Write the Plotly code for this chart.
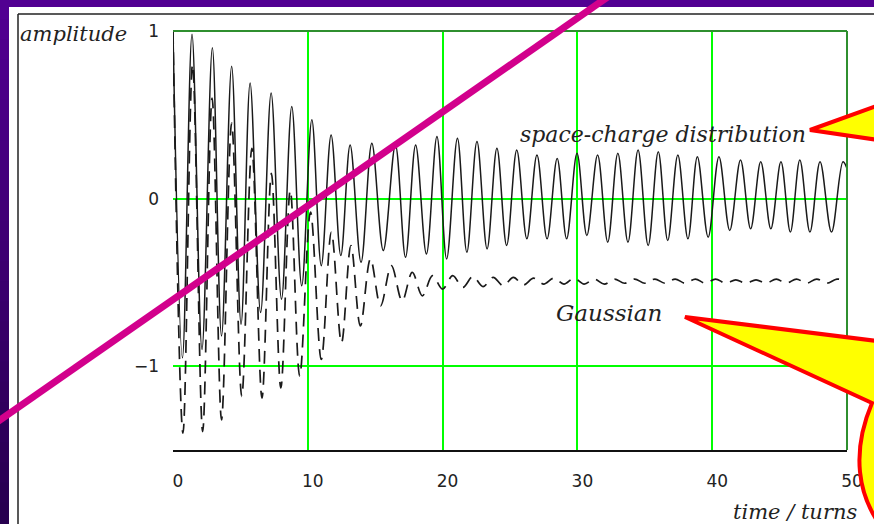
import plotly.graph_objects as go

# ---------------- data ----------------
x_ticks = [0, 10, 20, 30, 40, 50]
x_tick_text = ["0", "10", "20", "30", "40", "50"]
y_ticks = [-1, 0, 1]
y_tick_text = ["\u22121", "0", "1"]

# extrema of the space-charge distribution curve (time / turns, amplitude)
solid_t = [0.0, 0.7, 1.41, 2.15, 2.92, 3.6, 4.35, 5.05, 5.72, 6.5,
           7.28, 8.05, 8.81, 9.55, 10.3, 11.0, 11.73, 12.45, 13.14, 13.95,
           14.75, 15.6, 16.5, 17.25, 18.0, 18.8, 19.58, 20.3, 21.1, 21.8,
           22.55, 23.3, 24.03, 24.75, 25.5, 26.25, 27.0, 27.75, 28.5, 29.2,
           29.97, 30.7, 31.5, 32.25, 33.0, 33.75, 34.5, 35.25, 36.0, 36.7,
           37.45, 38.2, 38.9, 39.7, 40.5, 41.3, 42.1, 42.85, 43.6, 44.35,
           45.1, 45.8, 46.5, 47.25, 48.0, 48.85, 49.7, 50.0]
solid_y = [1.0, -0.95, 0.98, -0.90, 0.90, -0.82, 0.79, -0.75, 0.69, -0.68,
           0.63, -0.60, 0.55, -0.52, 0.47, -0.40, 0.38, -0.34, 0.32, -0.38,
           0.33, -0.31, 0.32, -0.35, 0.32, -0.33, 0.37, -0.36, 0.36, -0.32,
           0.34, -0.30, 0.30, -0.28, 0.29, -0.24, 0.26, -0.24, 0.24, -0.24,
           0.27, -0.22, 0.26, -0.26, 0.27, -0.26, 0.29, -0.28, 0.28, -0.25,
           0.26, -0.24, 0.25, -0.23, 0.25, -0.19, 0.23, -0.18, 0.22, -0.18,
           0.22, -0.20, 0.23, -0.20, 0.22, -0.20, 0.22, 0.18]

# extrema of the Gaussian curve
gauss_t = [0.0, 0.74, 1.45, 2.2, 2.9, 3.6, 4.35, 5.1, 5.85, 6.6,
           7.3, 8.0, 8.7, 9.4, 10.2, 11.0, 11.75, 12.5, 13.2, 13.9,
           14.65, 15.4, 16.2, 17.0, 17.75, 18.5, 19.25, 20.0, 20.75, 21.5,
           22.25, 23.0, 23.75, 24.5, 25.25, 26.0, 26.75, 27.5, 28.25, 29.0,
           29.75, 30.5, 31.25, 32.0, 32.75, 33.5, 34.25, 35.0, 35.75, 36.5,
           37.25, 38.0, 38.75, 39.5, 40.25, 41.0, 41.75, 42.5, 43.25, 44.0,
           44.75, 45.5, 46.25, 47.0, 47.75, 48.5, 49.25, 50.0]
gauss_y = [1.0, -1.40, 0.80, -1.39, 0.60, -1.32, 0.45, -1.18, 0.30, -1.19,
           0.15, -1.13, 0.05, -1.06, -0.08, -0.96, -0.20, -0.86, -0.28, -0.76,
           -0.36, -0.64, -0.40, -0.61, -0.44, -0.58, -0.46, -0.54, -0.46, -0.53,
           -0.465, -0.525, -0.47, -0.52, -0.47, -0.515, -0.475, -0.51, -0.475, -0.51,
           -0.475, -0.51, -0.48, -0.51, -0.48, -0.505, -0.48, -0.505, -0.48, -0.505,
           -0.48, -0.505, -0.48, -0.505, -0.48, -0.505, -0.485, -0.505, -0.485, -0.505,
           -0.48, -0.505, -0.48, -0.505, -0.48, -0.505, -0.48, -0.495]

# ---------------- layout geometry ----------------
W, H = 874, 524
L, R, T, B = 173, 847, 31, 450


def px(x):
    return (x - L) / (R - L)


def py(y):
    return (B - y) / (B - T)


fig = go.Figure()
fig.add_trace(go.Scatter(x=solid_t, y=solid_y, mode="lines",
                         line=dict(color="#1a1a1a", width=1.5, shape="spline", smoothing=1.0),
                         name="space-charge distribution", showlegend=False))
fig.add_trace(go.Scatter(x=gauss_t, y=gauss_y, mode="lines",
                         line=dict(color="#1a1a1a", width=1.7, shape="spline", smoothing=1.0,
                                   dash="13px,8px"),
                         name="Gaussian", showlegend=False))

shapes = []
# purple gradient strip on the left
n = 26
for i in range(n):
    f = i / (n - 1)
    r = int(82 - 42 * f)
    b = int(146 - 66 * f)
    shapes.append(dict(type="rect", xref="paper", yref="paper", layer="below",
                       x0=px(-2), x1=px(9), y0=py(i * H / n - 1), y1=py((i + 1) * H / n + 1),
                       fillcolor=f"rgb({r},0,{b})", line=dict(width=0)))
# white panel
shapes.append(dict(type="rect", xref="paper", yref="paper", layer="below",
                   x0=px(9), x1=px(W + 10), y0=py(7), y1=py(H + 10),
                   fillcolor="white", line=dict(width=0)))
# inner frame
shapes.append(dict(type="line", xref="paper", yref="paper", layer="below",
                   x0=px(18), x1=px(18), y0=py(14), y1=py(H + 10),
                   line=dict(color="#222", width=1.5)))
shapes.append(dict(type="line", xref="paper", yref="paper", layer="below",
                   x0=px(18), x1=px(W + 10), y0=py(14), y1=py(14),
                   line=dict(color="#222", width=1.5)))
# dark green top and right borders of the plot
shapes.append(dict(type="line", xref="paper", yref="paper", layer="above",
                   x0=0, x1=1, y0=1, y1=1, line=dict(color="#2f8f2f", width=2)))
shapes.append(dict(type="line", xref="paper", yref="paper", layer="above",
                   x0=1, x1=1, y0=0, y1=1, line=dict(color="#2f8f2f", width=2)))
# magenta diagonal
shapes.append(dict(type="line", xref="paper", yref="paper", layer="above",
                   x0=px(-10), y0=py(427), x1=px(612), y1=py(-6),
                   line=dict(color="#D2008C", width=7)))
# callout 1
p1 = f"M {px(810)},{py(130)} L {px(885)},{py(103)} L {px(885)},{py(141)} Z"
shapes.append(dict(type="path", xref="paper", yref="paper", layer="above", path=p1,
                   fillcolor="#FFFF00", line=dict(color="#FF0000", width=4)))
# callout 2
p2 = (f"M {px(685)},{py(317)} L {px(885)},{py(342)} L {px(890)},{py(535)} "
      f"L {px(878)},{py(522)} C {px(860)},{py(495)} {px(850)},{py(455)} {px(872)},{py(403)} Z")
shapes.append(dict(type="path", xref="paper", yref="paper", layer="above", path=p2,
                   fillcolor="#FFFF00", line=dict(color="#FF0000", width=4)))

lab_font = dict(family="DejaVu Serif", size=21, color="#222", style="italic")
annotations = [
    dict(text="amplitude", x=px(18), y=py(34), xref="paper", yref="paper",
         xanchor="left", yanchor="middle", showarrow=False, font=lab_font),
    dict(text="time / turns", x=px(731), y=py(512), xref="paper", yref="paper",
         xanchor="left", yanchor="middle", showarrow=False, font=lab_font),
    dict(text="space-charge distribution", x=px(518), y=py(134), xref="paper", yref="paper",
         xanchor="left", yanchor="middle", showarrow=False,
         font=dict(family="DejaVu Serif", size=22, color="#222", style="italic")),
    dict(text="Gaussian", x=px(554), y=py(313), xref="paper", yref="paper",
         xanchor="left", yanchor="middle", showarrow=False,
         font=dict(family="DejaVu Serif", size=23, color="#222", style="italic")),
]

tick_font = dict(family="DejaVu Sans", size=17, color="#222")
fig.update_layout(
    width=W, height=H, autosize=False,
    margin=dict(l=L, r=W - R, t=T, b=H - B, pad=0),
    paper_bgcolor="rgb(82,0,146)", plot_bgcolor="white",
    shapes=shapes, annotations=annotations, showlegend=False,
    xaxis=dict(range=[0, 50], tickvals=x_ticks, ticktext=x_tick_text,
               showgrid=True, gridcolor="#00FF00", gridwidth=2, zeroline=False,
               showline=True, linecolor="#111", linewidth=2, ticks="",
               tickfont=tick_font, ticklabelstandoff=15, ticklabelshift=5),
    yaxis=dict(range=[-1.5, 1.0], tickvals=y_ticks, ticktext=y_tick_text,
               showgrid=True, gridcolor="#00FF00", gridwidth=2, zeroline=False,
               showline=False, ticks="", tickfont=tick_font, ticklabelstandoff=13),
)

fig.write_html("out.html")
